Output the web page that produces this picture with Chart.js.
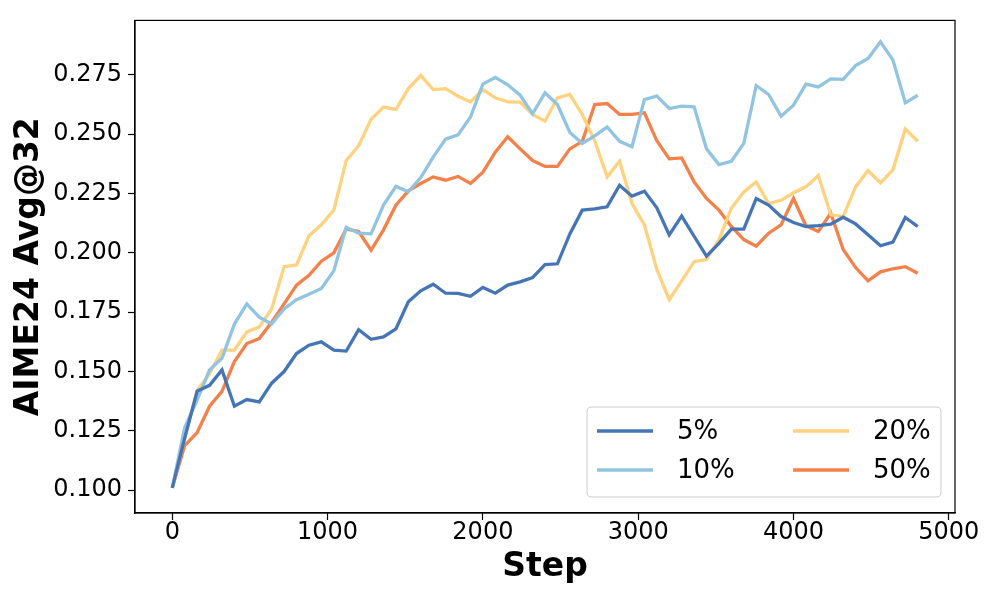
<!DOCTYPE html>
<html>
<head>
<meta charset="utf-8">
<script src="https://cdn.jsdelivr.net/npm/chart.js@4.4.1/dist/chart.umd.min.js"></script>
<style>
html,body{margin:0;padding:0;background:#fff;}
#wrap{position:relative;width:996px;height:598px;}
</style>
</head>
<body>
<div id="wrap"><canvas id="c" width="996" height="598"></canvas></div>
<script>
const steps = [0,80,160,240,320,400,480,560,640,720,800,880,960,1040,1120,1200,1280,1360,1440,1520,1600,1680,1760,1840,1920,2000,2080,2160,2240,2320,2400,2480,2560,2640,2720,2800,2880,2960,3040,3120,3200,3280,3360,3440,3520,3600,3680,3760,3840,3920,4000,4080,4160,4240,4320,4400,4480,4560,4640,4720,4800];

const seriesNames = ["5%","10%","20%","50%"];

const s5 = [0.101,0.122,0.1417,0.1442,0.1507,0.1354,0.1382,0.1372,0.1451,0.150,0.1576,0.1611,0.1625,0.159,0.1586,0.1676,0.1636,0.1646,0.168,0.1794,0.184,0.1868,0.183,0.1829,0.1817,0.1854,0.183,0.1864,0.1878,0.1896,0.1951,0.1954,0.208,0.218,0.2185,0.2194,0.2285,0.2239,0.226,0.219,0.2076,0.2155,0.207,0.1986,0.204,0.210,0.210,0.2229,0.2201,0.2153,0.2128,0.2111,0.2115,0.2121,0.215,0.2122,0.2076,0.203,0.2045,0.2149,0.2111];

const s10 = [0.101,0.1264,0.138,0.1507,0.1556,0.170,0.1785,0.1729,0.1701,0.1764,0.1803,0.1826,0.185,0.1924,0.2108,0.2083,0.208,0.2201,0.228,0.2257,0.2317,0.2403,0.2479,0.2497,0.2572,0.2711,0.2739,0.2708,0.2664,0.2586,0.2674,0.2625,0.2507,0.2461,0.2493,0.253,0.247,0.2447,0.2646,0.266,0.2608,0.2618,0.2615,0.2438,0.2372,0.2386,0.2461,0.2705,0.2667,0.2576,0.2622,0.2711,0.2699,0.2733,0.2731,0.2789,0.2819,0.2889,0.2813,0.2632,0.2664];

const s20 = [0.101,0.122,0.142,0.149,0.159,0.159,0.1667,0.1688,0.1764,0.1942,0.1949,0.2072,0.2118,0.218,0.2389,0.2451,0.2563,0.2614,0.2604,0.2692,0.2747,0.2688,0.2692,0.266,0.2636,0.2688,0.2653,0.2636,0.2635,0.2583,0.2555,0.2653,0.2667,0.2583,0.2472,0.232,0.2386,0.2208,0.2118,0.193,0.1803,0.1882,0.1963,0.1972,0.2056,0.2188,0.2257,0.2299,0.2208,0.2222,0.2253,0.2278,0.2326,0.216,0.2153,0.2278,0.2347,0.2295,0.235,0.2521,0.247];

const s50 = [0.101,0.1188,0.1243,0.1354,0.1417,0.1542,0.1618,0.1639,0.1708,0.1785,0.1864,0.1905,0.1965,0.200,0.210,0.209,0.2011,0.2097,0.2201,0.2261,0.2292,0.232,0.2306,0.2322,0.2292,0.234,0.2424,0.2489,0.2438,0.2389,0.2364,0.2364,0.2438,0.247,0.2625,0.2629,0.2583,0.2583,0.259,0.2472,0.2396,0.24,0.2299,0.2229,0.218,0.2111,0.2056,0.2028,0.2083,0.2118,0.2229,0.2114,0.209,0.2167,0.2014,0.1938,0.1882,0.192,0.1933,0.1942,0.1914];

const xTickValues = [0,1000,2000,3000,4000,5000];
const yTickValues = [0.100,0.125,0.150,0.175,0.200,0.225,0.250,0.275];

const colors = ["#4575b4","#91c4e0","#fed27f","#f4814a"];
const allSeries = [s5,s10,s20,s50];

const FONT = "'DejaVu Sans', 'Liberation Sans', sans-serif";

const datasets = allSeries.map((s,i)=>({
  label: seriesNames[i],
  data: steps.map((x,j)=>({x:x,y:s[j]})),
  borderColor: colors[i],
  backgroundColor: colors[i],
  borderWidth: 3.3,
  pointRadius: 0,
  tension: 0,
  fill: false
}));

const framePlugin = {
  id:'frame',
  afterDraw(chart){
    const {ctx, chartArea:a} = chart;
    ctx.save();
    ctx.strokeStyle = '#000';
    ctx.lineWidth = 1.2;
    ctx.strokeRect(a.left, a.top, a.right-a.left, a.bottom-a.top);
    // legend box inside the plot
    const bw = 354, bh = 90;
    const bx = a.right - 14 - bw, by = a.bottom - 16 - bh;
    ctx.fillStyle = 'rgba(255,255,255,0.85)';
    ctx.strokeStyle = '#cccccc';
    ctx.lineWidth = 1;
    const r = 5;
    ctx.beginPath();
    ctx.moveTo(bx+r,by);
    ctx.lineTo(bx+bw-r,by); ctx.quadraticCurveTo(bx+bw,by,bx+bw,by+r);
    ctx.lineTo(bx+bw,by+bh-r); ctx.quadraticCurveTo(bx+bw,by+bh,bx+bw-r,by+bh);
    ctx.lineTo(bx+r,by+bh); ctx.quadraticCurveTo(bx,by+bh,bx,by+bh-r);
    ctx.lineTo(bx,by+r); ctx.quadraticCurveTo(bx,by,bx+r,by);
    ctx.closePath();
    ctx.fill(); ctx.stroke();
    const order = [[0,0],[1,0],[0,1],[1,1]]; // [row,col] for datasets 5%,10%,20%,50%
    ctx.font = "26px " + FONT;
    ctx.textBaseline = 'middle';
    ctx.textAlign = 'left';
    order.forEach(([row,col],i)=>{
      const hx = bx + 10 + col*196;
      const hy = by + 24 + row*39;
      ctx.strokeStyle = colors[i];
      ctx.lineWidth = 3.3;
      ctx.beginPath(); ctx.moveTo(hx,hy); ctx.lineTo(hx+56,hy); ctx.stroke();
      ctx.fillStyle = '#000';
      ctx.fillText(seriesNames[i], hx+80, hy+1);
    });
    ctx.restore();
  }
};

new Chart(document.getElementById('c'), {
  type:'line',
  data:{datasets},
  plugins:[framePlugin],
  options:{
    responsive:false,
    animation:false,
    devicePixelRatio:1,
    layout:{padding:{left:0,right:41,top:15,bottom:0}},
    plugins:{legend:{display:false},tooltip:{enabled:false}},
    scales:{
      x:{
        type:'linear', min:-240, max:5040,
        afterFit(scale){ scale.height = 85; },
        afterBuildTicks(scale){ scale.ticks = xTickValues.map(v=>({value:v})); },
        ticks:{font:{size:24,family:FONT},color:'#000',padding:-2,maxRotation:0,
               callback:(v)=>String(v)},
        grid:{display:true,drawOnChartArea:false,drawTicks:true,tickLength:7,color:'#000',tickWidth:1.2},
        border:{display:true,color:'#000',width:1.2},
        title:{display:true,text:'Step',font:{size:33,weight:'bold',family:FONT},color:'#000',padding:{top:0,bottom:11}}
      },
      y:{
        type:'linear', min:0.09042, max:0.29792,
        afterFit(scale){ scale.width = 135; },
        afterBuildTicks(scale){ scale.ticks = yTickValues.map(v=>({value:v})); },
        ticks:{font:{size:24,family:FONT},color:'#000',padding:6,
               callback:(v)=>Number(v).toFixed(3)},
        grid:{display:true,drawOnChartArea:false,drawTicks:true,tickLength:7,color:'#000',tickWidth:1.2},
        border:{display:true,color:'#000',width:1.2},
        title:{display:true,text:'AIME24 Avg@32',font:{size:33,weight:'bold',family:FONT},color:'#000',padding:{top:10,bottom:0}}
      }
    }
  }
});
</script>
</body>
</html>
